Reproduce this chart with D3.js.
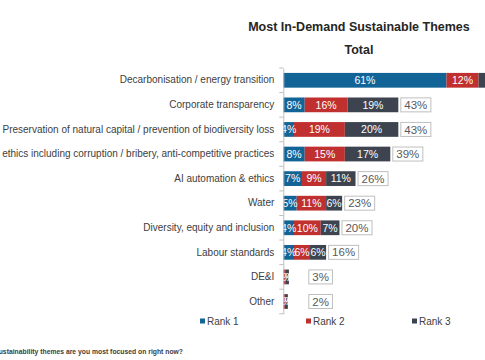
<!DOCTYPE html>
<html>
<head>
<meta charset="utf-8">
<script src="https://cdn.jsdelivr.net/npm/d3@7"></script>
<style>
  html, body { margin: 0; padding: 0; background: #fff; overflow: hidden; }
  svg { display: block; font-family: "Liberation Sans", Arial, sans-serif; }
</style>
</head>
<body>
<svg id="chart" width="485" height="360"></svg>
<script>
const categories = [
  "Decarbonisation / energy transition",
  "Corporate transparency",
  "Preservation of natural capital / prevention of biodiversity loss",
  "Business ethics including corruption / bribery, anti-competitive practices",
  "AI automation & ethics",
  "Water",
  "Diversity, equity and inclusion",
  "Labour standards",
  "DE&I",
  "Other"
];
const seriesNames = ["Rank 1", "Rank 2", "Rank 3"];
const rank1 = [61, 8, 4, 8, 7, 5, 4, 4, 0, 0];
const rank2 = [12, 16, 19, 15, 9, 11, 10, 6, 0.7, 0.6];
const rank3 = [14, 19, 20, 17, 11, 6, 7, 6, 1.4, 1.1];
const totals = [87, 43, 43, 39, 26, 23, 20, 16, 3, 2];
const colors = ["#126396", "#c0302f", "#3d4450"];

const svg = d3.select("#chart");
const x = d3.scaleLinear().domain([0, 100]).range([283.3, 283.3 + 267.5]);
const y = d3.scaleBand().domain(categories).range([68, 313.8]).paddingInner(0.4).paddingOuter(0.2);

// Title
svg.append("text").attr("x", 359).attr("y", 31).attr("text-anchor", "middle")
  .attr("font-size", 12.5).attr("font-weight", "bold").attr("fill", "#262626")
  .text("Most In-Demand Sustainable Themes");
svg.append("text").attr("x", 359).attr("y", 53.5).attr("text-anchor", "middle")
  .attr("font-size", 12.5).attr("font-weight", "bold").attr("fill", "#262626")
  .text("Total");

// Stacked data
const rows = categories.map((c, i) => ({ cat: c, r0: rank1[i], r1: rank2[i], r2: rank3[i], total: totals[i] }));
const stack = d3.stack().keys(["r0", "r1", "r2"]);
const layers = stack(rows);

const g = svg.append("g");
layers.forEach((layer, li) => {
  const lg = g.append("g");
  lg.selectAll("rect").data(layer).enter().append("rect")
    .attr("x", d => x(d[0]))
    .attr("y", d => y(d.data.cat))
    .attr("width", d => Math.max(0, x(d[1]) - x(d[0])))
    .attr("height", y.bandwidth())
    .attr("fill", colors[li]);
});
layers.forEach((layer, li) => {
  g.append("g").selectAll("text").data(layer.filter(d => d[1] - d[0] > 0)).enter().append("text")
    .attr("x", d => (x(d[0]) + x(d[1])) / 2)
    .attr("y", d => y(d.data.cat) + y.bandwidth() / 2)
    .attr("dy", "0.36em")
    .attr("text-anchor", "middle")
    .attr("font-size", 10.5)
    .attr("fill", "#ffffff")
    .text(d => Math.round(d[1] - d[0]) + "%");
});

// Axis (category)
const yAxis = d3.axisLeft(y).tickSize(0).tickSizeOuter(0).tickPadding(9);
const ax = svg.append("g").attr("transform", "translate(283.3,0)").call(yAxis);
ax.select(".domain").attr("stroke", "#bfbfbf");
ax.selectAll(".tick text").attr("font-size", 10).attr("fill", "#404040")
  .attr("font-family", "'Liberation Sans', Arial, sans-serif");
// boundary tick marks
const bounds = categories.map(c => y(c) - y.step() * y.paddingInner() / 2);
bounds.push(313.8);
ax.selectAll(".bnd").data(bounds).enter().append("line")
  .attr("x1", -4).attr("x2", 0).attr("y1", d => d).attr("y2", d => d)
  .attr("stroke", "#bfbfbf");

// Total boxes
rows.forEach((r, i) => {
  const end = x(r.r0 + r.r1 + r.r2);
  const bx = Math.max(end, x(8.6)) + 2.5;
  const cy = y(r.cat) + y.bandwidth() / 2;
  const bg = svg.append("g");
  const rect = bg.append("rect").attr("fill", "#fff").attr("stroke", "#bfbfbf").attr("stroke-width", 1);
  const t = bg.append("text").attr("x", bx + 3.5).attr("y", cy).attr("dy", "0.36em")
    .attr("font-size", 11.5).attr("fill", "#595959").text(r.total + "%");
  const w = t.node().getComputedTextLength();
  rect.attr("x", bx).attr("y", cy - 7).attr("width", w + 7).attr("height", 14);
});

// Legend
const legendX = [200, 306, 412];
seriesNames.forEach((s, i) => {
  svg.append("rect").attr("x", legendX[i]).attr("y", 318.5).attr("width", 5).attr("height", 5).attr("fill", colors[i]);
  svg.append("text").attr("x", legendX[i] + 7).attr("y", 321).attr("dy", "0.36em")
    .attr("font-size", 10).attr("fill", "#404040").text(s);
});

// Footnote
svg.append("text").attr("x", 183).attr("y", 354).attr("text-anchor", "end")
  .attr("font-size", 6.8).attr("font-weight", "bold").attr("fill", "#404040")
  .text("Q: Which sustainability themes are you most focused on right now?");
</script>
</body>
</html>
